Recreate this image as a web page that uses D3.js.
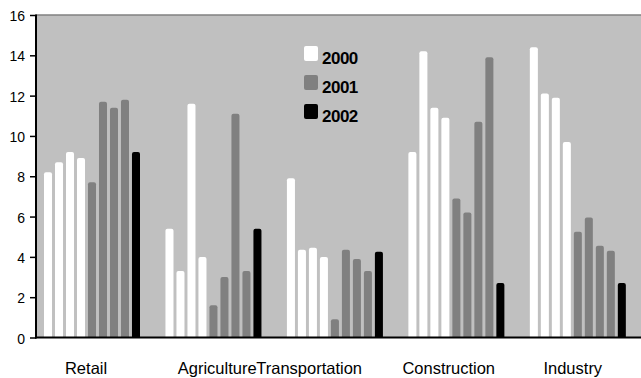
<!DOCTYPE html>
<html><head><meta charset="utf-8">
<script src="https://cdn.jsdelivr.net/npm/d3@7"></script>
<style>html,body{margin:0;padding:0;background:#fff;}svg{display:block;font-family:"Liberation Sans",Arial,sans-serif;}</style>
</head><body>
<svg id="c" width="641" height="378"></svg>
<script>
// ---- data ----
const categories = ["Retail", "Agriculture", "Transportation", "Construction", "Industry"];
const series = ["2000", "2001", "2002"];
const values2000 = [[8.2, 8.7, 9.2, 8.9], [5.4, 3.3, 11.6, 4.0], [7.9, 4.35, 4.45, 4.0], [9.2, 14.2, 11.4, 10.9], [14.4, 12.1, 11.9, 9.7]];
const values2001 = [[7.7, 11.7, 11.4, 11.8], [1.6, 3.0, 11.1, 3.3], [0.9, 4.35, 3.9, 3.3], [6.9, 6.2, 10.7, 13.9], [5.25, 5.95, 4.55, 4.3]];
const values2002 = [[9.2], [5.4], [4.25], [2.7], [2.7]];
const yTicks = [0, 2, 4, 6, 8, 10, 12, 14, 16];

// ---- layout / style ----
const colors = {"2000": "#ffffff", "2001": "#808080", "2002": "#000000"};
const plot = {left: 36, right: 641, top: 15, bottom: 337.5};
const labelShift = [-10.7, -1, -30.5, -12.4, -9.8];

const svg = d3.select("#c");

const rows = categories.map((c, i) => {
  const arr = [];
  values2000[i].forEach(v => arr.push({s: "2000", v}));
  values2001[i].forEach(v => arr.push({s: "2001", v}));
  values2002[i].forEach(v => arr.push({s: "2002", v}));
  return {cat: c, bars: arr};
});

const x0 = d3.scaleBand().domain(categories).range([plot.left, 643.3]).padding(0);
const nBars = d3.max(rows, r => r.bars.length);
const x1 = d3.scaleBand().domain(d3.range(nBars)).range([8, 104]).paddingInner(0.27).paddingOuter(0);
const y = d3.scaleLinear().domain([0, 16]).range([plot.bottom, plot.top]);

// background
svg.append("rect").attr("x", plot.left).attr("y", plot.top)
  .attr("width", plot.right - plot.left).attr("height", plot.bottom - plot.top)
  .attr("fill", "#c0c0c0");
svg.append("line").attr("x1", plot.left).attr("x2", plot.right)
  .attr("y1", plot.top).attr("y2", plot.top)
  .attr("stroke", "#808080").attr("stroke-width", 1.5);

function barPath(xl, w, yt, yb) {
  const r = Math.min(2, (yb - yt) / 2);
  return `M${xl},${yb}V${yt + r}Q${xl},${yt} ${xl + r},${yt}H${xl + w - r}Q${xl + w},${yt} ${xl + w},${yt + r}V${yb}Z`;
}

const g = svg.append("g");
rows.forEach(r => {
  g.selectAll(null).data(r.bars).enter().append("path")
    .attr("d", (d, j) => barPath(x0(r.cat) + x1(j), x1.bandwidth(), y(d.v), y(0)))
    .attr("fill", d => colors[d.s]);
});

// y axis
const ya = svg.append("g").attr("transform", `translate(${plot.left},0)`)
  .call(d3.axisLeft(y).tickValues(yTicks).tickSize(6).tickPadding(5).tickFormat(d3.format("d")));
ya.select(".domain").remove();
ya.selectAll(".tick line").attr("stroke", "#000").attr("stroke-width", 1.5);
ya.selectAll(".tick text").attr("font-size", 14).attr("font-family", "Liberation Sans, Arial, sans-serif").attr("fill", "#000").attr("dy", "0.4em");
svg.append("line").attr("x1", plot.left).attr("x2", plot.left)
  .attr("y1", plot.top - 0.5).attr("y2", plot.bottom + 1).attr("stroke", "#000").attr("stroke-width", 2);

// x axis
const xa = svg.append("g").attr("transform", `translate(0,${plot.bottom})`)
  .call(d3.axisBottom(x0).tickSize(0).tickPadding(0));
xa.select(".domain").remove();
xa.selectAll(".tick text").attr("font-size", 16.5).attr("font-family", "Liberation Sans, Arial, sans-serif")
  .attr("fill", "#000").attr("dy", 0).attr("y", 36.5)
  .attr("dx", (d, i) => labelShift[i]);
svg.append("line").attr("x1", plot.left - 1).attr("x2", plot.right)
  .attr("y1", plot.bottom).attr("y2", plot.bottom).attr("stroke", "#000").attr("stroke-width", 2);

// legend
const leg = svg.append("g").attr("transform", "translate(304,46)");
const li = leg.selectAll("g").data(series).enter().append("g")
  .attr("transform", (d, i) => `translate(0,${i * 29})`);
li.append("rect").attr("width", 14).attr("height", 15).attr("rx", 2).attr("fill", d => colors[d]);
li.append("text").attr("x", 18).attr("y", 18).text(d => d)
  .attr("font-size", 17).attr("font-weight", "bold").attr("letter-spacing", -0.5).attr("fill", "#000");
</script>
</body></html>
